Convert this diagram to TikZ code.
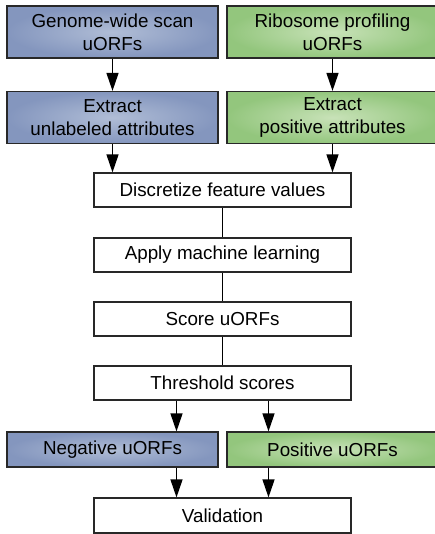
\documentclass[tikz,border=0pt]{standalone}
\usepackage{fontspec}
\setmainfont{Liberation Sans}
\usetikzlibrary{positioning,arrows.meta}

\definecolor{blueedge}{RGB}{132,150,190}
\definecolor{bluemid}{RGB}{176,189,214}
\definecolor{greenedge}{RGB}{147,198,125}
\definecolor{greenmid}{RGB}{200,226,184}
\definecolor{boxline}{RGB}{40,40,40}

\tikzset{
  stage/.style={draw=boxline,line width=1.2pt,fill=white,minimum width=257pt,minimum height=34pt,
    font=\fontsize{18.8}{23}\selectfont,align=center,inner sep=0pt},
  unlab/.style={stage,minimum width=211pt,minimum height=52pt,inner color=bluemid,outer color=blueedge},
  poslab/.style={unlab,inner color=greenmid,outer color=greenedge},
  arr/.style={-{Triangle[length=18pt,width=12pt]},line width=1.3pt,black},
  link/.style={line width=1.3pt,black}
}

\begin{document}
\begin{tikzpicture}[node distance=64pt,on grid]
	\useasboundingbox (0,0) rectangle (435pt,-534pt);
	\node[unlab] (gws) at (112.5pt,-32pt) {Genome-wide scan\\uORFs};
	\node[poslab,right=220pt of gws] (rp) {Ribosome profiling\\uORFs};
	\node[unlab,below=85.5pt of gws] (eu) {Extract\\unlabeled attributes};
	\node[poslab,right=220pt of eu] (ep) {Extract\\positive attributes};
	\node[stage,below right=72.5pt and 110pt of eu] (disc) {Discretize feature values};
	\node[stage,below=65pt of disc] (aml) {Apply machine learning};
	\node[stage,below=64pt of aml] (score) {Score uORFs};
	\node[stage,below=64pt of score] (thr) {Threshold scores};
	\node[unlab,minimum height=35pt,below left=66.5pt and 110pt of thr] (neg) {Negative uORFs};
	\node[poslab,minimum height=35pt,right=220pt of neg] (pos) {Positive uORFs};
	\node[stage,minimum height=35pt,below right=66pt and 110pt of neg] (val) {Validation};
	% split points under the threshold box
	\coordinate (tl) at ([xshift=-46pt]thr.south);
	\coordinate (tr) at ([xshift=46pt]thr.south);
	\draw[arr] (gws) -- (eu);
	\draw[arr] (rp) -- (ep);
	\draw[arr] (eu.south) -- (eu.south |- disc.north);
	\draw[arr] (ep.south) -- (ep.south |- disc.north);
	\draw[link] (disc) -- (aml);
	\draw[link] (aml) -- (score);
	\draw[link] (score) -- (thr);
	\draw[arr] (tl) -- (tl |- neg.north);
	\draw[arr] (tr) -- (tr |- pos.north);
	\draw[arr] (tl |- neg.south) -- (tl |- val.north);
	\draw[arr] (tr |- pos.south) -- (tr |- val.north);
\end{tikzpicture}
\end{document}
